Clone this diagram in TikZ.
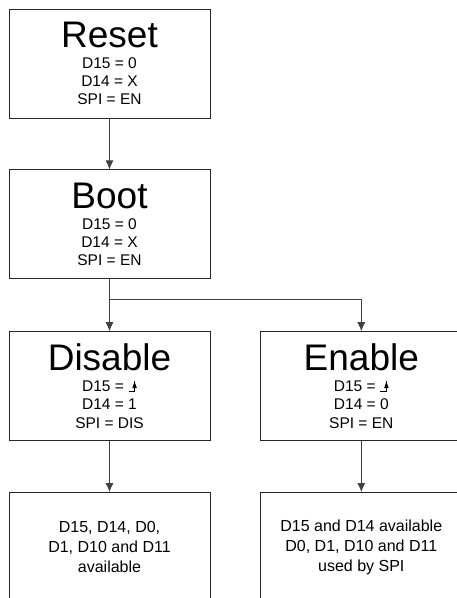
\documentclass[tikz,border=0pt]{standalone}
\usepackage{fontspec}
\setmainfont{Liberation Sans}
\usetikzlibrary{positioning,arrows.meta}
\newcommand{\statename}[1]{{\fontsize{37}{37}\selectfont #1}}
\newcommand{\risingedge}{\tikz[baseline=0pt,x=1pt,y=1pt]{\draw[line width=0.8pt] (0,0.4) -- (6,0.4) -- (6,11); \fill (3.7,3.5) -- (6,10) -- (8.3,3.5) -- cycle;}}

\begin{document}
\begin{tikzpicture}[x=1pt,y=1pt,
	state/.style={draw=black!85,line width=0.8pt,minimum width=201pt,minimum height=109pt,
		align=center,inner sep=0pt,font=\fontsize{15.5}{18.3}\selectfont},
	pins/.style={state,font=\fontsize{16}{20}\selectfont},
	link/.style={-{Latex[length=9pt,width=8pt]},draw=black!75,line width=0.8pt}]
	
	\useasboundingbox (0,0) rectangle (457,-598);
	\clip (0,0) rectangle (457,-598);
	
	% Draw the states
	\node[state] (reset) at (109.5,-63.5) {\statename{Reset}\\[2.7pt] D15 = 0\\ D14 = X\\ SPI = EN};
	\node[state,below=51pt of reset] (boot) {\statename{Boot}\\[2.7pt] D15 = 0\\ D14 = X\\ SPI = EN};
	\node[state,below=52pt of boot] (disable) {\statename{Disable}\\[2.7pt] D15 = \risingedge\\ D14 = 1\\ SPI = DIS};
	\node[state,right=50pt of disable] (enable) {\statename{Enable}\\[2.7pt] D15 = \risingedge\\ D14 = 0\\ SPI = EN};
	
	% Draw the pin boxes
	\node[pins,below=51pt of disable] (freepins) {D15, D14, D0,\\ D1, D10 and D11\\ available};
	\node[pins,below=51pt of enable] (spipins) {D15 and D14 available\\ D0, D1, D10 and D11\\ used by SPI};
	
	% Draw the transitions
	\coordinate (split) at ([yshift=-20pt]boot.south);
	\draw[link] (reset) -- (boot);
	\draw[link] (boot) -- (disable);
	\draw[link] (split) -| (enable);
	\draw[link] (disable) -- (freepins);
	\draw[link] (enable) -- (spipins);
\end{tikzpicture}
\end{document}
